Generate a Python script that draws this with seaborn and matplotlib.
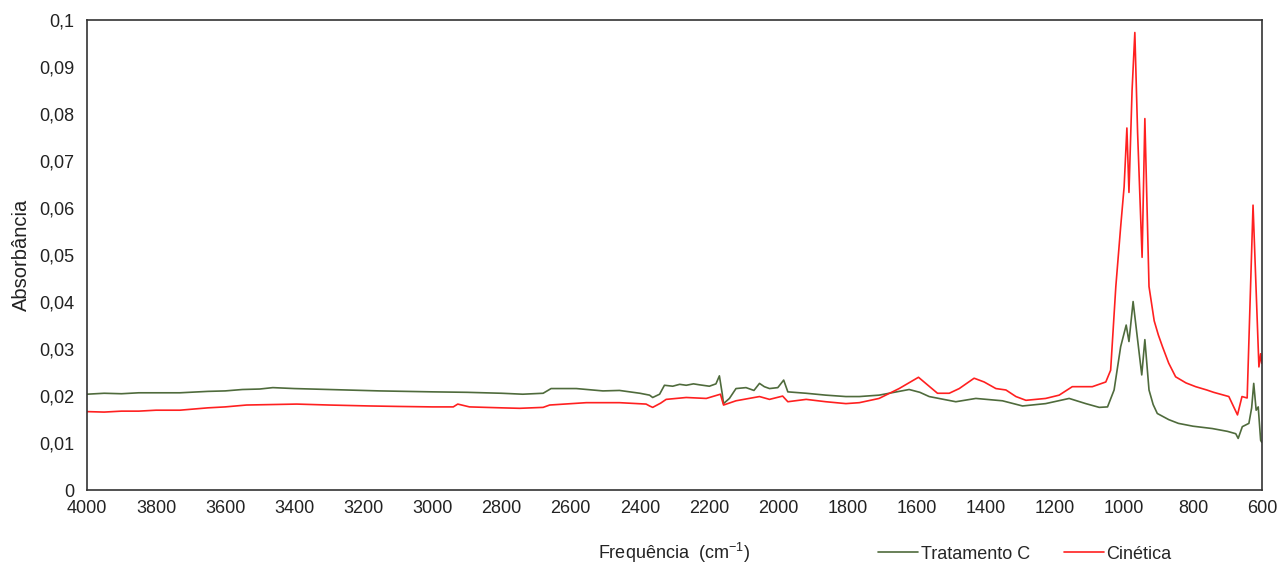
import matplotlib
matplotlib.use("Agg")
import matplotlib.pyplot as plt
import pandas as pd
import seaborn as sns

# Dados
wn_trat = [4000, 3950, 3900, 3850, 3800, 3731, 3650, 3600, 3550, 3500, 3462, 3400, 3300,
           3153, 3000, 2900, 2800, 2739, 2680, 2657, 2584, 2507, 2459, 2400, 2372, 2363,
           2343, 2329, 2305, 2285, 2266, 2245, 2228, 2199, 2180, 2170, 2162, 2158, 2141,
           2122, 2093, 2070, 2054, 2040, 2025, 2001, 1984, 1972, 1919, 1862, 1804, 1765,
           1708, 1650, 1621, 1590, 1563, 1486, 1428, 1351, 1293, 1226, 1158, 1110, 1071,
           1047, 1028, 1009, 993, 985, 973, 961, 948, 939, 927, 915, 903, 870, 842, 800,
           744, 700, 676, 669, 657, 638, 630, 624, 617, 611, 604, 601]
abs_trat = [0.0204, 0.0206, 0.0205, 0.0207, 0.0207, 0.0207, 0.0210, 0.0211, 0.0214, 0.0215,
            0.0218, 0.0216, 0.0214, 0.0211, 0.0209, 0.0208, 0.0206, 0.0204, 0.0206, 0.0216,
            0.0216, 0.0211, 0.0212, 0.0206, 0.0202, 0.0197, 0.0204, 0.0223, 0.0221, 0.0225,
            0.0223, 0.0226, 0.0224, 0.0221, 0.0226, 0.0243, 0.0206, 0.0184, 0.0195, 0.0216,
            0.0218, 0.0212, 0.0227, 0.0220, 0.0216, 0.0218, 0.0234, 0.0209, 0.0206, 0.0202,
            0.0199, 0.0199, 0.0202, 0.0210, 0.0214, 0.0208, 0.0199, 0.0188, 0.0195, 0.0190,
            0.0179, 0.0184, 0.0195, 0.0184, 0.0176, 0.0177, 0.0213, 0.0305, 0.0351, 0.0316,
            0.0401, 0.0326, 0.0245, 0.0320, 0.0213, 0.0182, 0.0163, 0.0150, 0.0142, 0.0136,
            0.0131, 0.0125, 0.0120, 0.0110, 0.0135, 0.0142, 0.0175, 0.0227, 0.0170, 0.0177,
            0.0106, 0.0102]

wn_cin = [4000, 3950, 3900, 3850, 3800, 3731, 3650, 3600, 3538, 3393, 3300, 3182, 3100,
          3000, 2940, 2927, 2893, 2800, 2748, 2680, 2661, 2555, 2459, 2382, 2372, 2363,
          2340, 2324, 2266, 2208, 2167, 2158, 2122, 2054, 2025, 1987, 1972, 1919, 1862,
          1804, 1765, 1708, 1650, 1594, 1539, 1505, 1476, 1433, 1404, 1370, 1341, 1312,
          1283, 1226, 1187, 1149, 1091, 1052, 1038, 1023, 1009, 999, 991, 985, 976, 968,
          960, 947, 939, 927, 912, 900, 888, 870, 850, 820, 792, 760, 740, 696, 671, 658,
          643, 626, 609, 604, 601]
abs_cin = [0.0167, 0.0166, 0.0168, 0.0168, 0.0170, 0.0170, 0.0175, 0.0177, 0.0181, 0.0183,
           0.0181, 0.0179, 0.0178, 0.0177, 0.0177, 0.0183, 0.0177, 0.0175, 0.0174, 0.0176,
           0.0181, 0.0186, 0.0186, 0.0183, 0.0179, 0.0176, 0.0185, 0.0193, 0.0197, 0.0195,
           0.0204, 0.0181, 0.0190, 0.0199, 0.0193, 0.0200, 0.0188, 0.0193, 0.0188, 0.0184,
           0.0186, 0.0195, 0.0216, 0.0240, 0.0206, 0.0206, 0.0216, 0.0238, 0.0230, 0.0216,
           0.0213, 0.0199, 0.0191, 0.0195, 0.0202, 0.0220, 0.0220, 0.0230, 0.0255, 0.0433,
           0.0560, 0.0645, 0.0770, 0.0633, 0.0850, 0.0973, 0.0760, 0.0495, 0.0790, 0.0433,
           0.0360, 0.0330, 0.0305, 0.0270, 0.0241, 0.0228, 0.0220, 0.0213, 0.0208, 0.0199,
           0.0160, 0.0199, 0.0196, 0.0606, 0.0262, 0.0290, 0.0270]

series_names = ['Tratamento C', 'Cinética']
colors = {'Tratamento C': '#4f6b3c', 'Cinética': '#ff2020'}

x_ticks = list(range(4000, 599, -200))
y_ticks = [0, 0.01, 0.02, 0.03, 0.04, 0.05, 0.06, 0.07, 0.08, 0.09, 0.1]
y_labels = ['0', '0,01', '0,02', '0,03', '0,04', '0,05', '0,06', '0,07', '0,08', '0,09', '0,1']

df = pd.concat([
    pd.DataFrame({'wn': wn_trat, 'abs': abs_trat, 'serie': series_names[0]}),
    pd.DataFrame({'wn': wn_cin, 'abs': abs_cin, 'serie': series_names[1]}),
])

sns.set_theme(style="white")
plt.rcParams['font.family'] = ['Liberation Sans', 'DejaVu Sans']
plt.rcParams['mathtext.default'] = 'regular'

fig = plt.figure(figsize=(12.78, 5.66), dpi=100)
ax = fig.add_axes([0.068, 0.134, 0.9195, 0.831])

sns.lineplot(data=df, x='wn', y='abs', hue='serie', hue_order=series_names,
             palette=colors, linewidth=1.2, legend=False, ax=ax, estimator=None)

ax.set_xlim(4000, 600)
ax.set_ylim(0, 0.1)
ax.set_xticks(x_ticks)
ax.set_xticklabels([str(t) for t in x_ticks])
ax.set_yticks(y_ticks)
ax.set_yticklabels(y_labels)
ax.tick_params(axis='both', labelsize=13, colors='#222222', length=0)
ax.tick_params(axis='y', pad=9)
ax.tick_params(axis='x', pad=7)

for s in ax.spines.values():
    s.set_color('#333333')
    s.set_linewidth(1.2)

ax.set_ylabel('Absorbância', fontsize=14.5, color='#222222', labelpad=6)
ax.set_xlabel('Frequência  (cm$^{-1}$)', fontsize=13, color='#222222', va='center')
ax.xaxis.set_label_coords(0.5, -0.134)

handles = ax.get_lines()[:2]
fig.legend(handles, series_names, loc='center', bbox_to_anchor=(0.802, 0.021),
           ncol=2, frameon=False, fontsize=13, handlelength=2.2, handletextpad=0.15,
           columnspacing=1.9)

plt.savefig('out.png', dpi=100)
